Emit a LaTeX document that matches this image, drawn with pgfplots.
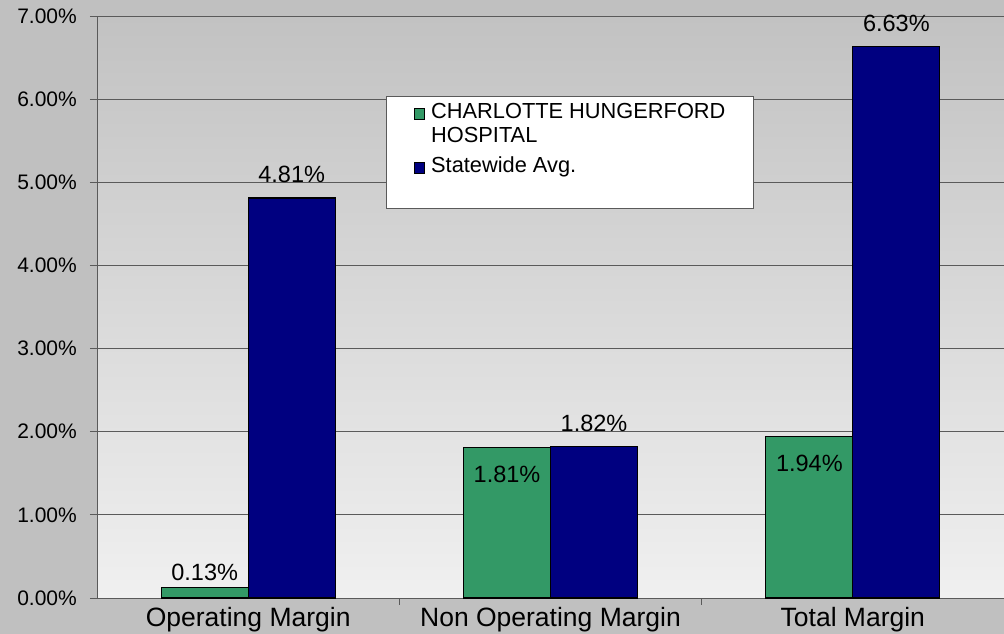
\documentclass[border=0pt]{standalone}
\usepackage{pgfplots}
\pgfplotsset{compat=1.18}
\usepackage{fontspec}
\setmainfont{Liberation Sans}
\definecolor{barGreen}{HTML}{339966}
\definecolor{barNavy}{HTML}{000080}
\definecolor{outerGray}{HTML}{C0C0C0}
\definecolor{gridGray}{HTML}{5A5A5A}
\begin{document}
\begin{tikzpicture}
\fill[outerGray] (0,0) rectangle (1004bp,634bp);
\useasboundingbox (0,0) rectangle (1004bp,634bp);
\begin{axis}[
  at={(97bp,36bp)}, anchor=south west,
  scale only axis, width=907bp, height=582bp,
  xmin=-0.5, xmax=2.5, ymin=0, ymax=7,
  axis background/.style={top color={rgb,255:red,194;green,194;blue,194}, bottom color={rgb,255:red,240;green,240;blue,240}},
  axis x line*=bottom, axis y line*=left,
  axis line style={draw=gridGray, line width=1bp},
  ymajorgrids, grid style={draw=gridGray, line width=0.9bp},
  ytick={0,1,2,3,4,5,6,7},
  yticklabel={\pgfmathprintnumber[fixed,fixed zerofill,precision=2]{\tick}\%},
  yticklabel style={font=\fontsize{21bp}{24bp}\selectfont, inner sep=0pt, xshift=-13bp},
  /pgf/number format/assume math mode=true,
  tick align=outside, major tick length=7bp,
  tick style={draw=gridGray, line width=1bp},
  xtick={0.5,1.5}, xticklabels={},
  extra x ticks={0,1,2},
  extra x tick labels={Operating Margin, Non Operating Margin, Total Margin},
  extra x tick style={major tick length=0pt, tick style={draw=none},
    xticklabel style={font=\fontsize{26.5bp}{28bp}\selectfont, inner sep=0pt, anchor=north, yshift=-9bp}},
  clip=false,
  ybar, bar width=87bp,
  legend style={at={(axis description cs:0.3197,0.8625)}, anchor=north west,
    xshift=27bp, yshift=-1bp, draw=none, fill=none, inner sep=0pt,
    font=\fontsize{21.8bp}{24bp}\selectfont, row sep=29bp, column sep=3bp,
    cells={anchor=base west}, nodes={inner xsep=3bp, inner ysep=4bp}},
  legend image code/.code={\draw[#1, line width=1bp] (0bp,-1bp) rectangle (10bp,10bp);},
]
\draw[fill=white, draw=gridGray, line width=1bp] (axis description cs:0.3197,0.8625) rectangle ++(367bp,-112bp);
% green series
\addplot[fill=barGreen, draw=black, line width=1.3bp, bar shift=-43.5bp,
  nodes near coords={\pgfmathprintnumber[fixed,fixed zerofill,precision=2]{\pgfplotspointmeta}\%},
  every node near coord/.append style={font=\fontsize{23.5bp}{26bp}\selectfont, text=black, inner sep=0pt, anchor=base, yshift=7bp}]
  coordinates {(0,0.13)};
\addlegendentry{\begin{tabular}[t]{@{}l@{}}CHARLOTTE HUNGERFORD\\HOSPITAL\end{tabular}}
\addplot[fill=barGreen, draw=black, line width=1.3bp, bar shift=-43.5bp, forget plot,
  nodes near coords={\pgfmathprintnumber[fixed,fixed zerofill,precision=2]{\pgfplotspointmeta}\%},
  every node near coord/.append style={font=\fontsize{23.5bp}{26bp}\selectfont, text=black, inner sep=0pt, anchor=base, yshift=-35bp}]
  coordinates {(1,1.81) (2,1.94)};
% navy series
\addplot[fill=barNavy, draw=black, line width=1.3bp, bar shift=43.5bp,
  nodes near coords={\pgfmathprintnumber[fixed,fixed zerofill,precision=2]{\pgfplotspointmeta}\%},
  every node near coord/.append style={font=\fontsize{23.5bp}{26bp}\selectfont, text=black, inner sep=0pt, anchor=base, yshift=15.5bp}]
  coordinates {(0,4.81) (1,1.82) (2,6.63)};
\addlegendentry{Statewide Avg.}
\end{axis}
\end{tikzpicture}
\end{document}
